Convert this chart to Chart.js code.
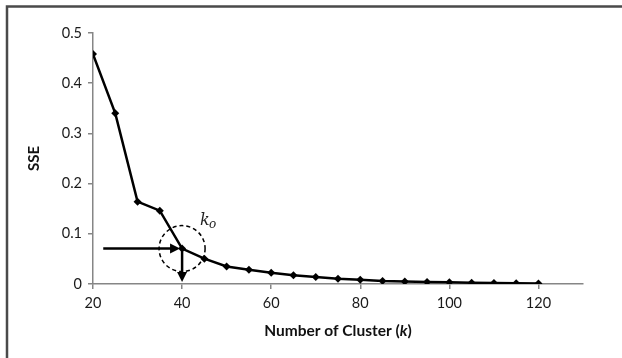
<!DOCTYPE html>
<html>
<head>
<meta charset="utf-8">
<script src="https://cdn.jsdelivr.net/npm/chart.js@4/dist/chart.umd.min.js"></script>
<style>
  html, body { margin: 0; padding: 0; background: #fff; }
  #wrap { width: 622px; height: 358px; position: relative; }
</style>
</head>
<body>
<div id="wrap"><canvas id="chart" width="622" height="358"></canvas></div>
<script>
// *** data for display ***
const K_VALUES = [20, 25, 30, 35, 40, 45, 50, 55, 60, 65, 70, 75, 80, 85, 90, 95, 100, 105, 110, 115, 120];
const SSE_VALUES = [0.458, 0.340, 0.164, 0.146, 0.0705, 0.0505, 0.035, 0.0285, 0.0225, 0.0173, 0.014, 0.0107,
                    0.0087, 0.0062, 0.0048, 0.004, 0.0033, 0.0027, 0.002, 0.0014, 0.001];
const X_TICKS = [20, 40, 60, 80, 100, 120];
const Y_TICKS = [0, 0.1, 0.2, 0.3, 0.4, 0.5];
// elbow annotation: chosen k and arrow start
const K_OPT = 40;
const SSE_OPT = 0.0705;
const ARROW_START_K = 22.3;

const FONT = "Lato, 'Open Sans', sans-serif";

// *** border, elbow marks and x title ***
const extras = {
    id: 'extras',
    afterDraw(chart) {
        const ctx = chart.ctx;
        const xs = chart.scales.x, ys = chart.scales.y;
        const px = xs.getPixelForValue(K_OPT);
        const py = ys.getPixelForValue(SSE_OPT);
        ctx.save();
        // frame
        ctx.strokeStyle = '#4a4a4a';
        ctx.lineWidth = 2.5;
        ctx.beginPath();
        ctx.moveTo(7, 358);
        ctx.lineTo(7, 6.5);
        ctx.lineTo(622, 6.5);
        ctx.stroke();

        // dashed circle
        ctx.strokeStyle = '#000';
        ctx.lineWidth = 1.5;
        ctx.setLineDash([4, 3]);
        ctx.beginPath();
        ctx.arc(px, py, 23, 0, Math.PI * 2);
        ctx.stroke();
        ctx.setLineDash([]);

        // horizontal arrow
        const sx = xs.getPixelForValue(ARROW_START_K);
        ctx.lineWidth = 2.5;
        ctx.beginPath();
        ctx.moveTo(sx, py);
        ctx.lineTo(px - 10, py);
        ctx.stroke();
        ctx.fillStyle = '#000';
        ctx.beginPath();
        ctx.moveTo(px - 2, py);
        ctx.lineTo(px - 12, py - 5);
        ctx.lineTo(px - 12, py + 5);
        ctx.closePath();
        ctx.fill();

        // vertical arrow
        const by = ys.getPixelForValue(0);
        ctx.beginPath();
        ctx.moveTo(px, py);
        ctx.lineTo(px, by - 10);
        ctx.stroke();
        ctx.beginPath();
        ctx.moveTo(px, by - 2);
        ctx.lineTo(px - 5, by - 12);
        ctx.lineTo(px + 5, by - 12);
        ctx.closePath();
        ctx.fill();

        // k_o label
        ctx.fillStyle = '#222';
        ctx.textBaseline = 'alphabetic';
        ctx.font = "italic 16px 'DejaVu Serif', serif";
        ctx.fillText('k', px + 18, py - 24);
        ctx.font = "italic 12px 'DejaVu Serif', serif";
        ctx.fillText('o', px + 27, py - 21);

        // x axis title with italic k
        const parts = [['bold 15.5px ' + FONT, 'Number of Cluster ('], ['bold italic 15.5px ' + FONT, 'k'], ['bold 15.5px ' + FONT, ')']];
        let total = 0;
        parts.forEach(p => { ctx.font = p[0]; total += ctx.measureText(p[1]).width; });
        let tx = (xs.getPixelForValue(20) + xs.getPixelForValue(130)) / 2 - total / 2;
        ctx.fillStyle = '#111';
        ctx.textBaseline = 'middle';
        parts.forEach(p => { ctx.font = p[0]; ctx.fillText(p[1], tx, 331); tx += ctx.measureText(p[1]).width; });
        ctx.restore();
    }
};

// *** display chart ***
const ctx = document.getElementById('chart').getContext('2d');
new Chart(ctx, {
    type: 'line',
    data: {
        datasets: [{
            label: 'SSE',
            data: K_VALUES.map((k, i) => ({ x: k, y: SSE_VALUES[i] })),
            borderColor: '#000',
            backgroundColor: '#000',
            borderWidth: 2.5,
            pointStyle: 'rectRot',
            pointRadius: 4,
            pointBorderWidth: 0,
            tension: 0
        }]
    },
    options: {
        responsive: false,
        animation: false,
        layout: { padding: { left: 25, top: 33, right: 39, bottom: 0 } },
        plugins: { legend: { display: false }, tooltip: { enabled: false } },
        scales: {
            x: {
                type: 'linear',
                min: 20,
                max: 130,
                afterBuildTicks(s) { s.ticks = X_TICKS.map(v => ({ value: v })); },
                afterFit(s) { s.height = 74; },
                border: { color: '#868686', width: 1.5 },
                grid: { drawOnChartArea: false, color: '#868686', tickLength: 5, lineWidth: 1.5 },
                ticks: { color: '#1a1a1a', font: { family: FONT, size: 14.5 }, padding: 6, maxRotation: 0 }
            },
            y: {
                min: 0,
                max: 0.5,
                afterBuildTicks(s) { s.ticks = Y_TICKS.map(v => ({ value: v })); },
                afterFit(s) { s.width = 68; },
                border: { color: '#868686', width: 1.5 },
                grid: { drawOnChartArea: false, color: '#868686', tickLength: 5, lineWidth: 1.5 },
                ticks: { color: '#1a1a1a', font: { family: FONT, size: 14.5 }, padding: 6 },
                title: { display: true, text: 'SSE', color: '#111', font: { family: FONT, size: 15, weight: 'bold' }, padding: 0 }
            }
        }
    },
    plugins: [extras]
});
</script>
</body>
</html>
